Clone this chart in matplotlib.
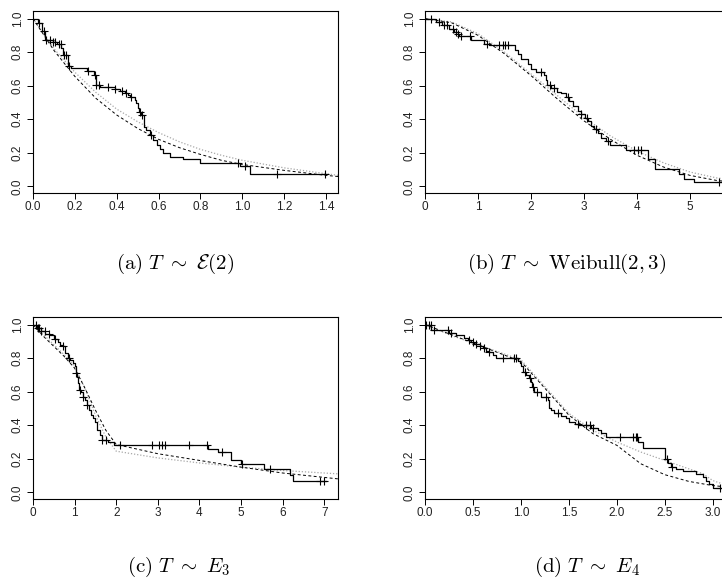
import matplotlib
matplotlib.use("Agg")
import matplotlib.pyplot as plt
import numpy as np

plt.rcParams["font.family"] = ["Liberation Sans", "DejaVu Sans"]
plt.rcParams["mathtext.fontset"] = "cm"

# ---- panel (a): T ~ E(2) ----
km_a_t = [0, 0.024, 0.045, 0.056, 0.096, 0.115, 0.136, 0.144, 0.167, 0.183, 0.26, 0.292,
          0.30, 0.319, 0.39, 0.415, 0.439, 0.454, 0.462, 0.486, 0.494, 0.502, 0.507, 0.518,
          0.529, 0.542, 0.558, 0.574, 0.59, 0.606, 0.622, 0.654, 0.718, 0.797, 0.989, 1.037, 1.40]
km_a_s = [1.0, 0.975, 0.925, 0.875, 0.86, 0.85, 0.825, 0.78, 0.72, 0.705, 0.685, 0.665,
          0.605, 0.59, 0.58, 0.57, 0.555, 0.545, 0.53, 0.515, 0.495, 0.465, 0.44, 0.425,
          0.355, 0.335, 0.305, 0.275, 0.245, 0.225, 0.20, 0.175, 0.16, 0.14, 0.12, 0.075, 0.075]
cens_a = [0.029, 0.053, 0.064, 0.08, 0.096, 0.104, 0.124, 0.132, 0.148, 0.156, 0.172, 0.263,
          0.295, 0.303, 0.316, 0.359, 0.391, 0.427, 0.443, 0.47, 0.51, 0.523, 0.566, 0.977,
          1.013, 1.164, 1.395]
fit_a_x = [0, 0.1, 0.2, 0.3, 0.4, 0.5, 0.6, 0.7, 0.8, 0.9, 1.0, 1.2, 1.4, 1.46]
dash_a = [1.0, 0.81, 0.655, 0.525, 0.425, 0.345, 0.28, 0.23, 0.19, 0.155, 0.13, 0.095, 0.065, 0.058]
dot_a = [1.0, 0.82, 0.68, 0.56, 0.46, 0.385, 0.32, 0.265, 0.22, 0.185, 0.155, 0.11, 0.075, 0.065]

# ---- panel (b): T ~ Weibull(2,3) ----
km_b_t = [0, 0.21, 0.33, 0.46, 0.55, 0.62, 0.65, 0.87, 1.12, 1.21, 1.70, 1.75, 1.81, 1.94,
          2.0, 2.09, 2.25, 2.28, 2.31, 2.38, 2.5, 2.57, 2.66, 2.72, 2.79, 2.88, 2.94, 3.01,
          3.07, 3.13, 3.19, 3.27, 3.32, 3.42, 3.5, 3.79, 4.2, 4.34, 4.8, 4.89, 5.08, 5.58]
km_b_s = [1.0, 0.98, 0.96, 0.935, 0.92, 0.91, 0.895, 0.87, 0.85, 0.84, 0.81, 0.79, 0.76, 0.73,
          0.70, 0.68, 0.665, 0.635, 0.605, 0.585, 0.565, 0.555, 0.535, 0.51, 0.48, 0.45, 0.43,
          0.41, 0.39, 0.36, 0.34, 0.32, 0.29, 0.27, 0.245, 0.215, 0.165, 0.105, 0.075, 0.045,
          0.025, 0.025]
cens_b = [0.0, 0.11, 0.27, 0.36, 0.41, 0.52, 0.58, 0.63, 0.68, 0.84, 1.17, 1.40, 1.47, 1.51,
          1.56, 2.19, 2.36, 2.44, 2.69, 2.95, 3.06, 3.23, 3.45, 3.95, 4.01, 4.08, 5.55]
fit_b_x = [0, 0.5, 1.0, 1.5, 2.0, 2.5, 3.0, 3.5, 4.0, 4.5, 5.0, 5.5, 5.8]
dash_b = [1.0, 0.975, 0.90, 0.79, 0.66, 0.52, 0.39, 0.28, 0.185, 0.115, 0.065, 0.035, 0.025]
dot_b = [1.0, 0.98, 0.91, 0.80, 0.67, 0.54, 0.41, 0.30, 0.21, 0.14, 0.085, 0.05, 0.04]

# ---- panel (c): T ~ E_3 ----
km_c_t = [0, 0.1, 0.2, 0.3, 0.4, 0.5, 0.6, 0.65, 0.72, 0.78, 0.85, 0.9, 0.95, 1.0, 1.03,
          1.05, 1.08, 1.1, 1.15, 1.2, 1.25, 1.3, 1.35, 1.4, 1.45, 1.5, 1.55, 1.6, 1.65, 1.8,
          1.95, 4.2, 4.45, 4.75, 4.99, 5.56, 6.17, 6.25, 7.05]
km_c_s = [1.0, 0.98, 0.96, 0.945, 0.935, 0.915, 0.895, 0.88, 0.87, 0.83, 0.80, 0.79, 0.77,
          0.75, 0.71, 0.69, 0.65, 0.61, 0.60, 0.57, 0.55, 0.52, 0.49, 0.46, 0.44, 0.42, 0.37,
          0.34, 0.31, 0.30, 0.283, 0.259, 0.239, 0.193, 0.17, 0.14, 0.105, 0.07, 0.07]
cens_c = [0.08, 0.12, 0.15, 0.2, 0.28, 0.38, 0.52, 0.72, 0.86, 1.04, 1.14, 1.2, 1.3, 1.67,
          1.75, 2.1, 2.85, 3.03, 3.09, 3.18, 3.74, 4.19, 4.55, 5.02, 5.7, 6.9, 6.99]
fit_c_x = [0, 0.25, 0.5, 0.75, 1.0, 1.25, 1.5, 1.75, 2.0, 3.0, 4.0, 5.0, 6.0, 7.33]
dash_c = [1.0, 0.93, 0.87, 0.81, 0.74, 0.62, 0.49, 0.37, 0.285, 0.23, 0.19, 0.15, 0.115, 0.08]
dot_c = [1.0, 0.94, 0.88, 0.82, 0.75, 0.62, 0.46, 0.33, 0.245, 0.205, 0.175, 0.15, 0.13, 0.11]

# ---- panel (d): T ~ E_4 ----
km_d_t = [0, 0.065, 0.25, 0.32, 0.41, 0.445, 0.48, 0.51, 0.57, 0.60, 0.64, 0.67, 0.71, 0.74,
          0.97, 0.99, 1.0, 1.02, 1.05, 1.08, 1.1, 1.12, 1.14, 1.21, 1.28, 1.29, 1.31, 1.35,
          1.42, 1.47, 1.5, 1.56, 1.6, 1.73, 1.8, 1.84, 1.89, 2.22, 2.27, 2.5, 2.53, 2.57,
          2.62, 2.69, 2.83, 2.9, 2.93, 2.96, 3.0, 3.09]
km_d_s = [1.0, 0.97, 0.95, 0.94, 0.92, 0.905, 0.895, 0.885, 0.87, 0.86, 0.845, 0.835, 0.82,
          0.80, 0.78, 0.77, 0.75, 0.72, 0.70, 0.68, 0.66, 0.63, 0.60, 0.57, 0.55, 0.50, 0.49,
          0.47, 0.455, 0.44, 0.42, 0.41, 0.40, 0.385, 0.37, 0.355, 0.33, 0.30, 0.267, 0.20,
          0.175, 0.15, 0.14, 0.125, 0.11, 0.09, 0.07, 0.05, 0.025, 0.025]
cens_d = [0.01, 0.04, 0.06, 0.09, 0.24, 0.27, 0.46, 0.5, 0.53, 0.57, 0.62, 0.67, 0.81, 0.93,
          0.95, 1.04, 1.09, 1.13, 1.17, 1.26, 1.39, 1.59, 1.68, 1.72, 1.75, 2.03, 2.17, 2.2,
          2.21, 2.52, 2.58, 3.08]
fit_d_x = [0, 0.25, 0.5, 0.75, 1.0, 1.25, 1.5, 1.75, 2.0, 2.25, 2.5, 2.75, 2.9, 3.0, 3.18]
dash_d = [1.0, 0.945, 0.89, 0.835, 0.78, 0.62, 0.46, 0.35, 0.28, 0.17, 0.105, 0.065, 0.05, 0.04, 0.03]
dot_d = [1.0, 0.94, 0.89, 0.84, 0.79, 0.63, 0.47, 0.37, 0.30, 0.24, 0.19, 0.14, 0.11, 0.07, 0.035]

captions = [r"$\mathrm{(a)}\ T\ \sim\ \mathcal{E}(2)$",
            r"$\mathrm{(b)}\ T\ \sim\ \mathrm{Weibull}(2,3)$",
            r"$\mathrm{(c)}\ T\ \sim\ E_3$",
            r"$\mathrm{(d)}\ T\ \sim\ E_4$"]

panels = [
    (km_a_t, km_a_s, cens_a, fit_a_x, dash_a, dot_a, 1.457, np.arange(0, 1.41, 0.2), "%.1f"),
    (km_b_t, km_b_s, cens_b, fit_b_x, dash_b, dot_b, 5.755, np.arange(0, 6), "%d"),
    (km_c_t, km_c_s, cens_c, fit_c_x, dash_c, dot_c, 7.33, np.arange(0, 8), "%d"),
    (km_d_t, km_d_s, cens_d, fit_d_x, dash_d, dot_d, 3.18, np.arange(0, 3.01, 0.5), "%.1f"),
]

W, H = 722, 580
fig = plt.figure(figsize=(W / 100, H / 100), dpi=100)
boxes = [(33, 11), (425, 11), (33, 317), (425, 317)]
box_w, box_h = 305, 182
cap_pos = [(175, 264), (567, 264), (179, 567), (587, 567)]

for (kt, ks, cx, fx, fd, fo, xmax, xt, fmt), (bx, by), cap, (tx, ty) in zip(
        panels, boxes, captions, cap_pos):
    ax = fig.add_axes([bx / W, 1 - (by + box_h) / H, box_w / W, box_h / H])
    ax.plot(fx, fo, color="#a8a8a8", lw=0.9, ls=(0, (1, 1.5)))
    ax.plot(fx, fd, color="black", lw=0.7, ls=(0, (3, 2.5)))
    ax.plot(kt, ks, color="black", lw=0.9, drawstyle="steps-post")
    kt_arr = np.asarray(kt)
    ks_arr = np.asarray(ks)
    cy = ks_arr[np.searchsorted(kt_arr, cx, side="right") - 1]
    ax.plot(cx, cy, ls="none", marker="+", color="black", ms=5.5, mew=0.8)
    ax.set_xlim(0, xmax)
    ax.set_ylim(-0.04, 1.045)
    ax.set_xticks(xt)
    ax.set_xticklabels([fmt % v for v in xt])
    ax.set_yticks(np.arange(0, 1.01, 0.2))
    ax.set_yticklabels(["%.1f" % v for v in np.arange(0, 1.01, 0.2)],
                       rotation=90, va="center")
    ax.tick_params(length=4, width=0.7, labelsize=8.5, labelcolor="#222222", pad=1.5)
    ax.tick_params(axis="y", pad=2.5)
    for sp in ax.spines.values():
        sp.set_linewidth(0.8)
    fig.text(tx / W, 1 - ty / H, cap, ha="center", va="center", fontsize=15)

fig.savefig("out.png", dpi=100)
